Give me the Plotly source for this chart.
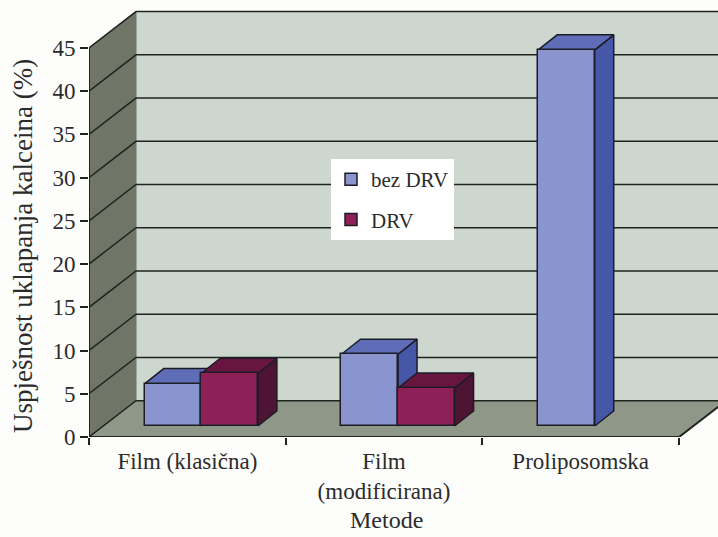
import plotly.graph_objects as go

categories = ["Film (klasična)", "Film<br>(modificirana)", "Proliposomska"]
bez_drv = [4.9, 8.3, 43.5]
drv = [6.1, 4.4, None]
y_ticks = [0, 5, 10, 15, 20, 25, 30, 35, 40, 45]
x_title = "Metode"
y_title = "Uspješnost uklapanja kalceina (%)"

FONT = "Liberation Serif"
INK = "#1c1c24"
WALL_DX, WALL_DY = 0.239, 4.2     # depth of the chart box, in axis units
FLOOR_DX, FLOOR_DY = 0.0712, 1.27 # bars stand this far back on the floor
BAR_DX, BAR_DY = 0.0966, 1.74     # depth of a bar
BAR_W = 0.2875
X_MAX = 3.198
Y_MAX = 50.54
Y_TOP = 45
CATS = len(categories)


def poly(xs, ys, color, zorder, line=None, width=1):
    return go.Scatter(
        x=xs, y=ys, mode="lines", fill="toself", fillcolor=color,
        line=dict(color=line or color, width=width),
        hoverinfo="skip", showlegend=False, zorder=zorder,
    )


def series(values, offset, name, front, top, side, z):
    xc = [i + 0.5 + FLOOR_DX + offset for i in range(CATS)]
    top_x, top_y, side_x, side_y = [], [], [], []
    for x, v in zip(xc, values):
        if v is None:
            continue
        l, r = x - BAR_W / 2, x + BAR_W / 2
        b, t = FLOOR_DY, FLOOR_DY + v
        top_x += [l, r, r + BAR_DX, l + BAR_DX, l, None]
        top_y += [t, t, t + BAR_DY, t + BAR_DY, t, None]
        side_x += [r, r + BAR_DX, r + BAR_DX, r, r, None]
        side_y += [b, b + BAR_DY, t + BAR_DY, t, b, None]
    return [
        poly(side_x, side_y, side, z, INK, 1.5),
        poly(top_x, top_y, top, z + 1, INK, 1.5),
        go.Bar(
            x=xc, y=values, base=FLOOR_DY, width=BAR_W, name=name,
            legendgroup=name, marker=dict(color=front, line=dict(color=INK, width=1.5)),
            zorder=z + 2, hoverinfo="skip",
        ),
    ]


traces = [
    # back wall
    poly([WALL_DX, X_MAX, X_MAX, WALL_DX, WALL_DX],
         [WALL_DY, WALL_DY, Y_TOP + WALL_DY, Y_TOP + WALL_DY, WALL_DY],
         "#cdd7d0", 0),
    # side wall
    poly([0, WALL_DX, WALL_DX, 0, 0], [0, WALL_DY, Y_TOP + WALL_DY, Y_TOP, 0], "#6f7667", 1),
    # floor
    poly([0, CATS, CATS + WALL_DX, WALL_DX, 0], [0, 0, WALL_DY, WALL_DY, 0], "#8f9788", 1),
]

grid_x, grid_y = [], []
for t in y_ticks:
    grid_x += [0, WALL_DX, X_MAX, None]
    grid_y += [t, t + WALL_DY, t + WALL_DY, None]
traces.append(go.Scatter(x=grid_x, y=grid_y, mode="lines", line=dict(color="#20241f", width=1.5),
                         hoverinfo="skip", showlegend=False, zorder=2))
# front edges of the side wall and of the floor
traces.append(go.Scatter(x=[0, 0, None, 0, CATS, CATS + WALL_DX], y=[0, Y_TOP, None, 0, 0, WALL_DY],
                         mode="lines", line=dict(color="#20241f", width=2), cliponaxis=False,
                         hoverinfo="skip", showlegend=False, zorder=3))

traces += series(bez_drv, -BAR_W / 2, "bez DRV", "#8a95d0", "#5f6db8", "#4757a8", 4)
traces += series(drv, BAR_W / 2, "DRV", "#8e2058", "#681640", "#4d1433", 7)

fig = go.Figure(traces)
fig.update_layout(
    width=718, height=537,
    margin=dict(l=89, r=0, t=0, b=100),
    paper_bgcolor="#fdfdfb", plot_bgcolor="#fdfdfb",
    font=dict(family=FONT, color="#2b2b2b", size=22),
    barmode="overlay",
    bargap=0,
    xaxis=dict(
        range=[0, X_MAX], tickmode="array",
        tickvals=[i + 0.5 for i in range(CATS)], ticktext=categories,
        ticks="", showgrid=False, zeroline=False, showline=False,
        tickfont=dict(size=23, family=FONT), ticklabelstandoff=8, tickangle=0,
        minor=dict(tickmode="array", tickvals=list(range(CATS + 1)), ticks="outside",
                   ticklen=7, tickwidth=2, tickcolor="#20241f", showgrid=False),
        automargin=False,
    ),
    yaxis=dict(
        range=[0, Y_MAX], tickmode="array", tickvals=y_ticks,
        ticks="outside", ticklen=8, tickwidth=2, tickcolor="#20241f",
        showgrid=False, zeroline=False, showline=False,
        tickfont=dict(size=23, family=FONT),
        automargin=False,
    ),
    annotations=[
        dict(text=y_title, textangle=-90, showarrow=False, xref="paper", yref="paper",
             x=(23 - 89) / 629, y=1 - 246 / 437, xanchor="center", yanchor="middle",
             font=dict(size=27, family=FONT, color="#2b2b2b")),
        dict(text=x_title, showarrow=False, xref="paper", yref="paper",
             x=(386 - 89) / 629, y=1 - 520 / 437, xanchor="center", yanchor="middle",
             font=dict(size=24, family=FONT, color="#2b2b2b")),
    ],
    legend=dict(
        x=(331 - 89) / 629, y=1 - 159 / 437, xanchor="left", yanchor="top",
        bgcolor="#ffffff", borderwidth=0, font=dict(size=21, family=FONT, color="#2b2b2b"),
        tracegroupgap=10, itemwidth=30, entrywidth=76, entrywidthmode="pixels",
    ),
    showlegend=True,
)
fig.write_html("out.html", config={"displayModeBar": False},
               post_script="document.body.style.margin='0';")
